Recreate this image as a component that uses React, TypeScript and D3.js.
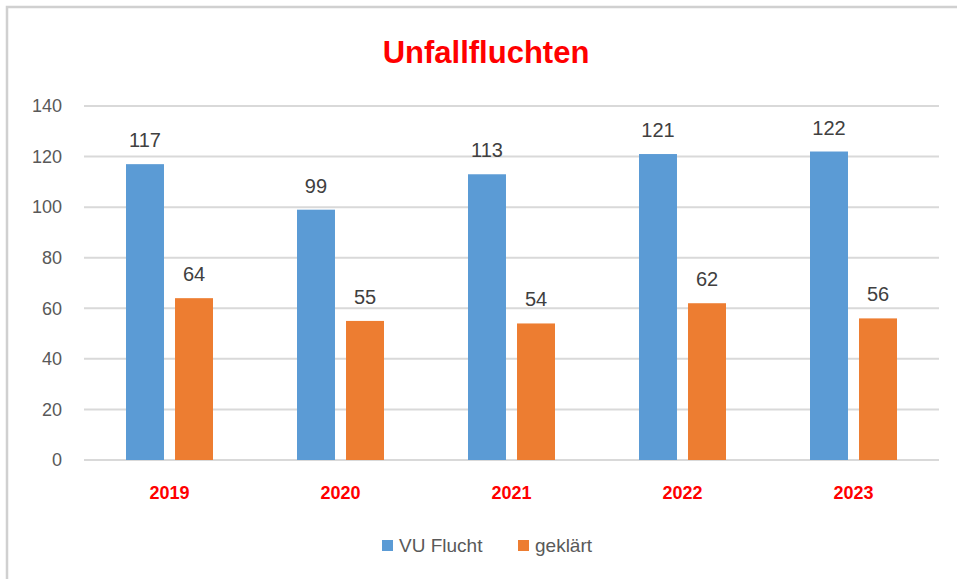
import React, { useEffect, useRef } from "react";
import * as d3 from "d3";

const years = ["2019", "2020", "2021", "2022", "2023"];
const vuFlucht = [117, 99, 113, 121, 122];
const geklaert = [64, 55, 54, 62, 56];
const seriesNames = ["VU Flucht", "geklärt"];
const seriesColors = ["#5b9bd5", "#ed7d31"];
const yTicks = [0, 20, 40, 60, 80, 100, 120, 140];

export default function App() {
  const svgRef = useRef<SVGSVGElement>(null);

  useEffect(() => {
    const width = 957;
    const height = 579;
    const margin = { top: 106, right: 18, bottom: 119, left: 84 };
    const font = "'Liberation Sans', Arial, sans-serif";

    const svg = d3.select(svgRef.current).attr("width", width).attr("height", height);
    svg.selectAll("*").remove();

    // frame (runs off the right and bottom edges)
    svg
      .append("rect")
      .attr("x", 7)
      .attr("y", 7)
      .attr("width", width + 10)
      .attr("height", height + 10)
      .attr("fill", "white")
      .attr("stroke", "#d0d0d0")
      .attr("stroke-width", 2.5);

    const x = d3
      .scaleBand()
      .domain(years)
      .range([margin.left, width - margin.right]);

    const y = d3
      .scaleLinear()
      .domain([0, 140])
      .range([height - margin.bottom, margin.top]);

    const inner = d3
      .scaleBand()
      .domain(seriesNames)
      .range([0, 87])
      .paddingInner(0.225);

    // gridlines
    svg
      .append("g")
      .selectAll("line")
      .data(yTicks)
      .enter()
      .append("line")
      .attr("x1", margin.left)
      .attr("x2", width - margin.right)
      .attr("y1", (d) => y(d))
      .attr("y2", (d) => y(d))
      .attr("stroke", "#d9d9d9")
      .attr("stroke-width", 2);

    // y labels
    svg
      .append("g")
      .selectAll("text")
      .data(yTicks)
      .enter()
      .append("text")
      .attr("x", 62)
      .attr("y", (d) => y(d))
      .attr("dy", "0.35em")
      .attr("text-anchor", "end")
      .attr("font-family", font)
      .attr("font-size", 18)
      .attr("fill", "#595959")
      .text((d) => d);

    const rows = years.map((yr, i) => ({ year: yr, values: [vuFlucht[i], geklaert[i]] }));

    const groups = svg
      .append("g")
      .selectAll("g")
      .data(rows)
      .enter()
      .append("g")
      .attr("transform", (d) => `translate(${x(d.year)! + (x.bandwidth() - 87) / 2}, 0)`);

    const cells = groups
      .selectAll("g")
      .data((d) => d.values.map((v, j) => ({ name: seriesNames[j], value: v, color: seriesColors[j] })))
      .enter()
      .append("g");

    cells
      .append("rect")
      .attr("x", (d) => inner(d.name)!)
      .attr("y", (d) => y(d.value))
      .attr("width", inner.bandwidth())
      .attr("height", (d) => y(0) - y(d.value))
      .attr("fill", (d) => d.color);

    cells
      .append("text")
      .attr("x", (d) => inner(d.name)! + inner.bandwidth() / 2)
      .attr("y", (d) => y(d.value) - 17)
      .attr("text-anchor", "middle")
      .attr("font-family", font)
      .attr("font-size", 20)
      .attr("fill", "#404040")
      .text((d) => d.value);

    // x labels
    svg
      .append("g")
      .selectAll("text")
      .data(years)
      .enter()
      .append("text")
      .attr("x", (d) => x(d)! + x.bandwidth() / 2)
      .attr("y", 499)
      .attr("text-anchor", "middle")
      .attr("font-family", font)
      .attr("font-size", 18)
      .attr("font-weight", "bold")
      .attr("fill", "#ff0000")
      .text((d) => d);

    // title
    svg
      .append("text")
      .attr("x", 486)
      .attr("y", 63)
      .attr("text-anchor", "middle")
      .attr("font-family", font)
      .attr("font-size", 31)
      .attr("font-weight", "bold")
      .attr("fill", "#ff0000")
      .text("Unfallfluchten");

    // legend
    const legendX = [382, 518];
    const legend = svg
      .append("g")
      .selectAll("g")
      .data(seriesNames)
      .enter()
      .append("g")
      .attr("transform", (d, i) => `translate(${legendX[i]}, 545)`);

    legend
      .append("rect")
      .attr("x", 0)
      .attr("y", -5)
      .attr("width", 11)
      .attr("height", 11)
      .attr("fill", (d, i) => seriesColors[i]);

    legend
      .append("text")
      .attr("x", 17)
      .attr("y", 0)
      .attr("dy", "0.35em")
      .attr("font-family", font)
      .attr("font-size", 19)
      .attr("fill", "#595959")
      .text((d) => d);
  }, []);

  return (
    <div style={{ position: "fixed", left: 0, top: 0, width: 957, height: 579, overflow: "hidden" }}>
      <svg ref={svgRef} style={{ display: "block" }}></svg>
    </div>
  );
}
